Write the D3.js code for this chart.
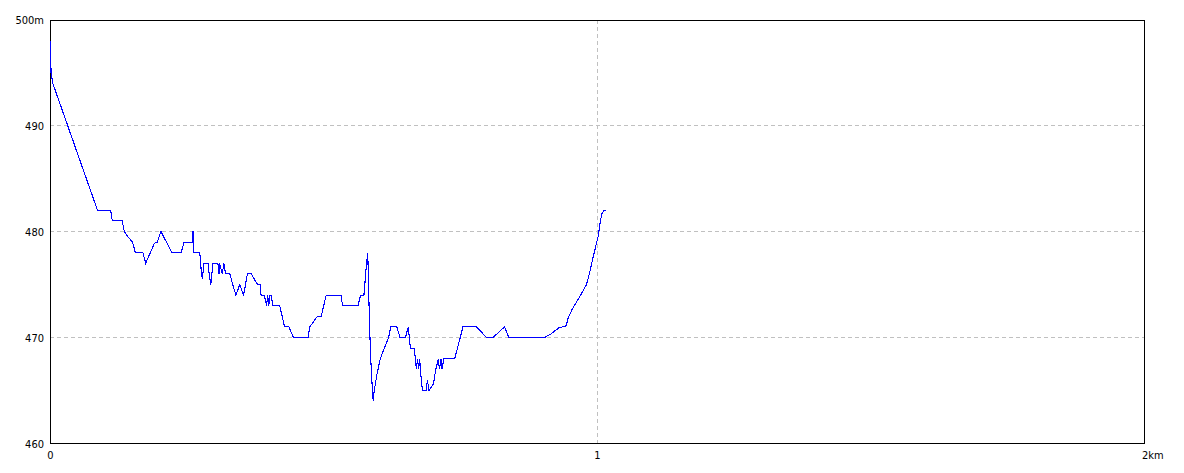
<!DOCTYPE html>
<html><head><meta charset="utf-8">
<script src="https://cdn.jsdelivr.net/npm/d3@7"></script>
<style>
html,body{margin:0;padding:0;background:#fff;}
text{font-family:"DejaVu Sans Condensed","Liberation Sans Narrow",sans-serif;font-size:11px;fill:#000;}
</style></head>
<body><svg id="c" width="1184" height="473"></svg>
<script>
// distance along route (km)
const distanceKm = [0,0.001,0.004,0.086,0.110,0.113,0.131,0.135,0.140,0.150,0.155,0.169,0.174,0.190,0.195,0.202,0.222,0.239,0.244,0.260,0.2605,0.261,0.273,0.276,0.278,0.280,0.288,0.290,0.293,0.297,0.306,0.308,0.309,0.314,0.317,0.320,0.328,0.333,0.339,0.346,0.353,0.360,0.367,0.375,0.379,0.383,0.385,0.391,0.395,0.397,0.399,0.401,0.404,0.406,0.419,0.428,0.436,0.444,0.471,0.474,0.488,0.495,0.504,0.531,0.534,0.562,0.567,0.573,0.577,0.580,0.581,0.583,0.585,0.587,0.589,0.590,0.591,0.597,0.603,0.611,0.618,0.622,0.633,0.639,0.649,0.654,0.658,0.665,0.667,0.669,0.671,0.673,0.675,0.676,0.680,0.687,0.689,0.692,0.700,0.704,0.709,0.711,0.714,0.716,0.719,0.724,0.739,0.754,0.779,0.797,0.809,0.830,0.838,0.903,0.914,0.929,0.943,0.946,0.954,0.967,0.980,0.986,0.993,1.001,1.005,1.008,1.012,1.015];
// elevation (m)
const elevationM = [498,495,494,482,482,481,481,480,479.6,479,478,478,477,478.9,479,480,478,478,479,479,480,478,478,476,475.5,477,477,476,475,477,477,476,477,476,477,476,476,475,474,475,474,476,476,475.3,475,475,474,474,473,474,473,474,474,473,473,471,471,470,470,471,472,472,474,474,473,473,474,474,476.5,478,476,471.6,468.5,466.3,464.8,464,464.7,466.6,468,469.1,470,471,471,470,470,471,469,469,468,467,468,467,468,467,465,465,466,465,465.6,466.9,468,467,468,467,468,468,468,471,471,470,470,471,470,470,470.3,470.9,471.1,471.8,472.7,473.8,475,476.2,477.8,479.5,480.9,481.7,482,482];
const yTicks = [500,490,480,470,460];
const yTickLabels = ["500m","490","480","470","460"];
const xTicks = [0,1,2];
const xTickLabels = ["0","1","2km"];

const svg = d3.select("#c");
const x = d3.scaleLinear().domain([0,2]).range([50,1144]);
const y = d3.scaleLinear().domain([460,500]).range([443,19]);
const px = v => Math.round(v) + 0.5;

// grid
svg.selectAll("line.h").data(yTicks.filter(v=>v>460&&v<500)).enter().append("line")
  .attr("x1",50).attr("x2",1144).attr("y1",d=>px(y(d))).attr("y2",d=>px(y(d)))
  .attr("stroke","#c0c0c0").attr("stroke-dasharray","4,3").attr("shape-rendering","crispEdges");
svg.selectAll("line.v").data(xTicks.filter(v=>v>0&&v<2)).enter().append("line")
  .attr("y1",20).attr("y2",443).attr("x1",d=>px(x(d))).attr("x2",d=>px(x(d)))
  .attr("stroke","#c0c0c0").attr("stroke-dasharray","4,3").attr("shape-rendering","crispEdges");

// frame
svg.append("rect").attr("x",50.5).attr("y",20.5).attr("width",1094).attr("height",423)
  .attr("fill","none").attr("stroke","#000").attr("shape-rendering","crispEdges");

// line
const pts = distanceKm.map((d,i)=>[d,elevationM[i]]);
svg.append("path").datum(pts)
  .attr("d", d3.line().x(d=>x(d[0])+0.5).y(d=>y(d[1])+0.5))
  .attr("fill","none").attr("stroke","#0000ff").attr("stroke-width",1.1)
  .attr("shape-rendering","crispEdges");

// labels
svg.selectAll("text.y").data(yTicks).enter().append("text")
  .attr("x",44).attr("y",d=>y(d)+1).attr("dy","0.35em").attr("text-anchor","end")
  .text((d,i)=>yTickLabels[i]);
svg.selectAll("text.x").data(xTicks).enter().append("text")
  .attr("x",(d,i)=> i===2 ? x(d)-2 : x(d)+0.5).attr("y",455).attr("dy","0.35em")
  .attr("text-anchor",(d,i)=> i===2 ? "start" : "middle")
  .text((d,i)=>xTickLabels[i]);
</script></body></html>
